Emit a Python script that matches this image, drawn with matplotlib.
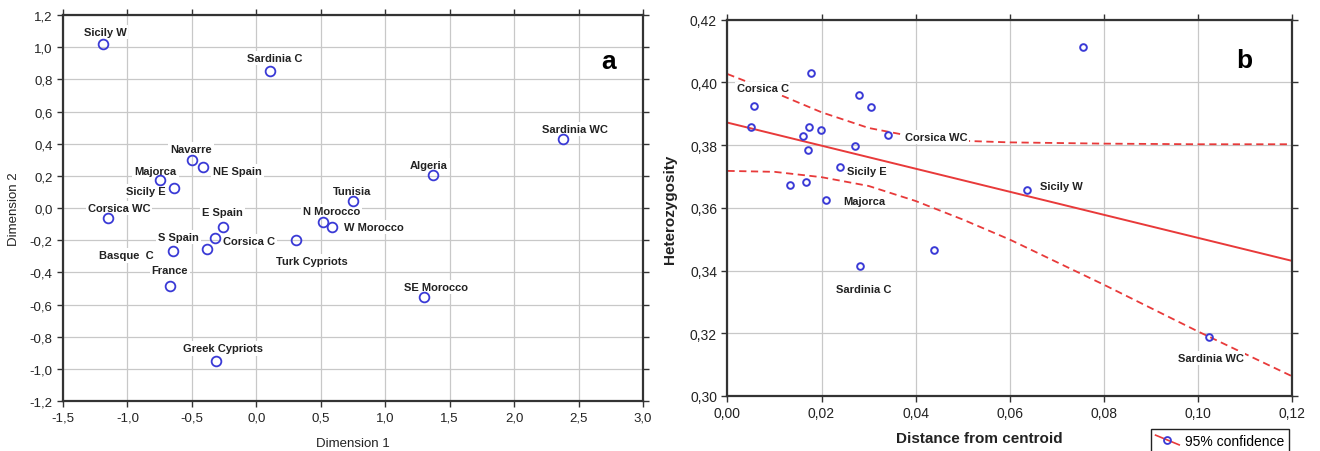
import matplotlib
matplotlib.use('Agg')
from matplotlib import pyplot as plt
from matplotlib.lines import Line2D
from matplotlib.legend_handler import HandlerBase
from matplotlib.ticker import FuncFormatter

plt.rcParams['font.family'] = ['Liberation Sans', 'DejaVu Sans']

# panel a: MDS coordinates
pops = ["Sicily W", "Sardinia C", "Sardinia WC", "Algeria", "Tunisia", "N Morocco",
        "W Morocco", "SE Morocco", "Navarre", "NE Spain", "Majorca", "Sicily E",
        "Corsica WC", "E Spain", "S Spain", "Corsica C", "Basque  C", "Turk Cypriots",
        "France", "Greek Cypriots"]
dim1 = [-1.19, 0.11, 2.38, 1.37, 0.75, 0.52, 0.59, 1.30, -0.50, -0.41, -0.75, -0.64,
        -1.15, -0.26, -0.32, -0.38, -0.65, 0.31, -0.67, -0.31]
dim2 = [1.02, 0.85, 0.43, 0.205, 0.043, -0.085, -0.12, -0.555, 0.30, 0.257, 0.174, 0.126,
        -0.062, -0.117, -0.187, -0.255, -0.27, -0.197, -0.483, -0.954]

# panel b: heterozygosity vs distance from centroid
dist = [0.0178, 0.0056, 0.0049, 0.0279, 0.0305, 0.0174, 0.0198, 0.0161, 0.0341, 0.0271,
        0.0171, 0.0240, 0.0133, 0.0167, 0.0210, 0.0281, 0.0440, 0.0756, 0.0636, 0.1023]
het = [0.403, 0.3924, 0.3857, 0.396, 0.3923, 0.3858, 0.385, 0.383, 0.3832, 0.3798,
       0.3785, 0.3732, 0.3674, 0.3681, 0.3625, 0.3415, 0.3467, 0.4113, 0.3656, 0.3188]
het_labels = ["", "Corsica C", "", "", "", "", "", "", "Corsica WC", "", "", "Sicily E",
              "", "", "Majorca", "Sardinia C", "", "", "Sicily W", "Sardinia WC"]

fit_x = [0.0, 0.12]
fit_y = [0.3872, 0.3431]
band_x = [0.0, 0.01, 0.02, 0.03, 0.04, 0.05, 0.06, 0.08, 0.10, 0.12]
band_up = [0.4027, 0.3968, 0.3905, 0.3855, 0.3826, 0.3814, 0.3809, 0.3805, 0.3803, 0.3803]
band_lo = [0.3718, 0.3715, 0.3698, 0.3670, 0.3622, 0.3563, 0.3499, 0.3355, 0.3206, 0.3063]

# label offsets in pixels (dx, dy, ha)
a_offsets = [(2, 12, 'center'), (4, 13, 'center'), (12, 10, 'center'), (-4, 10, 'center'),
             (-1, 10, 'center'), (8, 11, 'center'), (12, 0, 'left'), (12, 10, 'center'),
             (-1, 11, 'center'), (10, -4, 'left'), (-4, 9, 'center'), (-8, -3, 'right'),
             (11, 10, 'center'), (0, 15, 'center'), (-16, 1, 'right'), (16, 8, 'left'),
             (-19, -4, 'right'), (16, -21, 'center'), (0, 16, 'center'), (7, 13, 'center')]
b_offsets = {"Corsica C": (9, 18, 'center'), "Corsica WC": (17, -2, 'left'),
             "Sicily E": (7, -4, 'left'), "Majorca": (17, -1, 'left'),
             "Sardinia C": (4, -23, 'center'), "Sicily W": (13, 4, 'left'),
             "Sardinia WC": (2, -21, 'center')}

blue = '#3a3ad6'
red = '#e83a3a'
grid_c = '#c8c8c8'
dark = '#333333'

fig = plt.figure(figsize=(13.2, 4.52), dpi=100)
ax1 = fig.add_axes([0.0477, 0.1106, 0.4394, 0.854])
ax2 = fig.add_axes([0.5511, 0.1217, 0.4277, 0.8323])

def style(ax):
    ax.grid(True, color=grid_c, lw=0.9, zorder=0)
    ax.set_axisbelow(True)
    ax.tick_params(direction='out', length=4, width=1, color=dark, top=True, right=True,
                   labelcolor='#222222')
    for s in ax.spines.values():
        s.set_linewidth(1.6)
        s.set_color(dark)

comma1 = FuncFormatter(lambda v, p: ("%.1f" % v).replace('.', ','))
comma2 = FuncFormatter(lambda v, p: ("%.2f" % v).replace('.', ','))

# ---- panel a
style(ax1)
ax1.plot(dim1, dim2, 'o', ms=7, mfc='none', mec=blue, mew=1.3, zorder=4)
for name, x, y, (dx, dy, ha) in zip(pops, dim1, dim2, a_offsets):
    ax1.annotate(name, (x, y), xytext=(dx, dy), textcoords='offset pixels', ha=ha,
                 va='center', fontsize=8, fontweight='bold', color='#222222', zorder=3,
                 bbox=dict(facecolor='white', edgecolor='none', pad=1.5))
ax1.set_xlim(-1.5, 3.0)
ax1.set_ylim(-1.2, 1.2)
ax1.set_xticks([-1.5 + 0.5 * i for i in range(10)])
ax1.set_yticks([-1.2 + 0.2 * i for i in range(13)])
ax1.xaxis.set_major_formatter(comma1)
ax1.yaxis.set_major_formatter(comma1)
ax1.tick_params(labelsize=9.5)
ax1.set_xlabel("Dimension 1", fontsize=9.5, color='#222222')
ax1.set_ylabel("Dimension 2", fontsize=9.5, color='#222222')
ax1.xaxis.set_label_coords(0.5, -0.093)
ax1.yaxis.set_label_coords(-0.074, 0.5)
ax1.text(0.94, 0.881, "a", transform=ax1.transAxes, ha='center', va='center',
         fontsize=19, fontweight='bold')

# ---- panel b
style(ax2)
ax2.plot(fit_x, fit_y, '-', color=red, lw=1.4, zorder=2)
ax2.plot(band_x, band_up, '--', color=red, lw=1.3, dashes=(4, 2.5), zorder=2)
ax2.plot(band_x, band_lo, '--', color=red, lw=1.3, dashes=(4, 2.5), zorder=2)
ax2.plot(dist, het, 'o', ms=4.8, mfc='none', mec=blue, mew=1.4, zorder=4)
for name, x, y in zip(het_labels, dist, het):
    if name:
        dx, dy, ha = b_offsets[name]
        ax2.annotate(name, (x, y), xytext=(dx, dy), textcoords='offset pixels', ha=ha,
                     va='center', fontsize=8, fontweight='bold', color='#222222', zorder=3,
                     bbox=dict(facecolor='white', edgecolor='none', pad=1.2))
ax2.set_xlim(0, 0.12)
ax2.set_ylim(0.30, 0.42)
ax2.set_xticks([0.02 * i for i in range(7)])
ax2.set_yticks([0.30 + 0.02 * i for i in range(7)])
ax2.xaxis.set_major_formatter(comma2)
ax2.yaxis.set_major_formatter(comma2)
ax2.tick_params(labelsize=10)
ax2.set_xlabel("Distance from centroid", fontsize=11, fontweight='bold', color='#222222')
ax2.set_ylabel("Heterozygosity", fontsize=11, fontweight='bold', color='#222222')
ax2.xaxis.set_label_coords(0.4456, -0.094)
ax2.yaxis.set_label_coords(-0.089, 0.5)
ax2.text(0.916, 0.893, "b", transform=ax2.transAxes, ha='center', va='center',
         fontsize=19, fontweight='bold')


class DiagHandler(HandlerBase):
    def create_artists(self, legend, orig, xd, yd, w, h, fontsize, trans):
        ln = Line2D([-xd, -xd + w], [-yd + h, -yd], color=red, lw=1.2, transform=trans)
        mk = Line2D([-xd + w / 2], [-yd + h / 2], marker='o', ms=5, mfc='none', mec=blue,
                    mew=1.3, ls='none', transform=trans)
        return [ln, mk]


handle = Line2D([], [], color=red)
leg = fig.legend([handle], ["95% confidence"], handler_map={Line2D: DiagHandler()},
                 loc='upper left', bbox_to_anchor=(0.8665, 0.064), fontsize=10,
                 fancybox=False, edgecolor='#222222', framealpha=1, borderpad=0.35,
                 handlelength=1.7, handletextpad=0.4)
leg.get_frame().set_linewidth(1.0)

fig.savefig("out.png", dpi=100)
